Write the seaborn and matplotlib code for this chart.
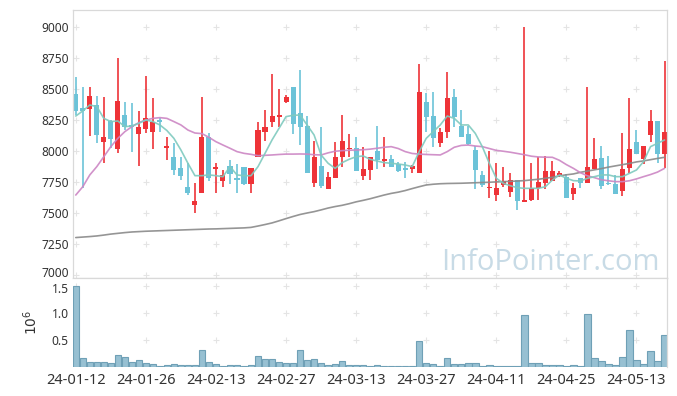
import matplotlib
matplotlib.use('Agg')
import matplotlib.pyplot as plt
import matplotlib.transforms as mtransforms
import numpy as np
import pandas as pd
import seaborn as sns

# daily prices, 24-01-12 .. 24-05-20 (85 trading days)
opens = [8460, 8344, 8341, 8368, 8075, 8245, 8019, 8288, 8210, 8137,
         8180, 8156, 8250, 8025, 7950, 7861, 7707, 7565, 7664, 8110,
         7855, 7761, 7879, 7780, 7868, 7731, 7949, 8156, 8237, 8277,
         8398, 8513, 8304, 8202, 7744, 7879, 7694, 7785, 7949, 8013,
         8027, 7801, 7847, 8000, 7919, 7935, 7895, 7855, 7852, 7825,
         8392, 8282, 8064, 8150, 8433, 8202, 8137, 8010, 7804, 7699,
         7645, 7723, 7672, 7766, 7586, 7605, 7702, 7740, 7761, 7810,
         7788, 7651, 7780, 7745, 7855, 7946, 7745, 7734, 7680, 7860,
         8070, 7933, 8129, 8245, 7976]
highs = [8595, 8513, 8519, 8444, 8433, 8250, 8747, 8392, 8387, 8322,
         8605, 8425, 8265, 8110, 8063, 7954, 7901, 7739, 8433, 8148,
         7901, 7847, 7928, 7893, 7870, 7866, 8237, 8331, 8621, 8497,
         8452, 8513, 8653, 8282, 8080, 8191, 7833, 8069, 8290, 8134,
         8115, 8035, 7954, 8202, 8116, 7968, 7914, 7914, 7887, 8702,
         8465, 8479, 8188, 8640, 8497, 8330, 8200, 8040, 7836, 8000,
         7901, 7868, 7825, 7766, 9000, 7906, 7949, 7960, 7919, 7842,
         7815, 7745, 7780, 8513, 8102, 8040, 7960, 7807, 8148, 8425,
         8169, 8040, 8331, 8245, 8728]
lows = [8290, 7700, 8121, 8067, 7900, 8024, 7981, 8170, 7992, 7879,
        8142, 8016, 8155, 7930, 7803, 7766, 7645, 7497, 7664, 7761,
        7664, 7710, 7734, 7664, 7725, 7664, 7949, 8080, 8196, 8191,
        8384, 8137, 8049, 7820, 7707, 7699, 7694, 7785, 7874, 7954,
        7841, 7766, 7766, 7852, 7874, 7874, 7833, 7780, 7820, 7825,
        8156, 8035, 8035, 8102, 8191, 8110, 8050, 7690, 7710, 7618,
        7597, 7710, 7626, 7524, 7586, 7599, 7605, 7694, 7761, 7790,
        7624, 7605, 7699, 7740, 7855, 7690, 7726, 7653, 7640, 7820,
        7976, 7895, 8075, 7906, 7860]
closes = [8325, 8322, 8444, 8129, 8113, 8097, 8403, 8196, 8195, 8191,
          8263, 8237, 8237, 8040, 7843, 7801, 7659, 7597, 8113, 7780,
          7871, 7807, 7812, 7766, 7731, 7863, 8169, 8194, 8282, 8290,
          8433, 8218, 8196, 7820, 7954, 7720, 7788, 7954, 8080, 8027,
          7841, 7852, 7954, 7927, 7933, 7874, 7841, 7849, 7879, 8479,
          8277, 8102, 8150, 8425, 8272, 8113, 8057, 7850, 7723, 7713,
          7699, 7761, 7766, 7597, 7605, 7702, 7748, 7842, 7842, 7823,
          7624, 7699, 7740, 7874, 7935, 7720, 7731, 7653, 7855, 8013,
          7976, 8040, 8242, 7976, 8150]
ma5 = [8282, 8323, 8371, 8358, 8263, 8237, 8242, 8196, 8202, 8223,
       8250, 8237, 8210, 8165, 8102, 8008, 7901, 7801, 7801, 7807,
       7801, 7793, 7874, 7807, 7801, 7801, 7874, 7981, 8089, 8183,
       8277, 8288, 8290, 8210, 8129, 7968, 7901, 7860, 7906, 7933,
       7954, 7960, 7933, 7919, 7906, 7901, 7895, 7887, 7874, 7995,
       8102, 8156, 8210, 8282, 8263, 8210, 8210, 8142, 8035, 7901,
       7780, 7739, 7720, 7704, 7699, 7699, 7699, 7712, 7766, 7807,
       7780, 7761, 7758, 7780, 7793, 7807, 7807, 7793, 7793, 7820,
       7847, 7914, 8035, 8062, 8089]
ma20 = [7645, 7712, 7807, 7874, 7954, 8035, 8102, 8156, 8196, 8229,
        8250, 8263, 8269, 8263, 8237, 8210, 8169, 8145, 8140, 8110,
        8075, 8048, 8022, 7995, 7981, 7973, 7962, 7965, 7968, 7972,
        7975, 7975, 7976, 7975, 7970, 7968, 7985, 7998, 8003, 8006,
        8008, 8010, 8015, 8022, 8030, 8035, 8020, 7995, 7980, 7975,
        7972, 7970, 7968, 7995, 8030, 8045, 8048, 8040, 8035, 8020,
        8005, 7998, 7990, 7980, 7970, 7958, 7952, 7950, 7949, 7925,
        7890, 7860, 7825, 7800, 7785, 7768, 7760, 7753, 7753, 7760,
        7775, 7793, 7810, 7830, 7860]
ma120 = [7302, 7306, 7310, 7315, 7322, 7330, 7336, 7342, 7347, 7350,
         7353, 7355, 7357, 7359, 7361, 7363, 7365, 7367, 7369, 7371,
         7372, 7374, 7376, 7378, 7380, 7384, 7395, 7407, 7420, 7437,
         7455, 7472, 7488, 7500, 7511, 7525, 7540, 7552, 7562, 7575,
         7590, 7602, 7615, 7630, 7645, 7658, 7668, 7681, 7697, 7712,
         7726, 7732, 7736, 7738, 7739, 7740, 7742, 7744, 7746, 7748,
         7751, 7753, 7755, 7758, 7761, 7767, 7772, 7780, 7788, 7800,
         7808, 7815, 7828, 7838, 7848, 7858, 7870, 7880, 7890, 7900,
         7912, 7920, 7930, 7940, 7949]
volume = [1.50, 0.16, 0.09, 0.09, 0.09, 0.07, 0.23, 0.185, 0.09, 0.13,
          0.07, 0.055, 0.02, 0.04, 0.055, 0.04, 0.04, 0.04, 0.31, 0.09,
          0.055, 0.02, 0.04, 0.04, 0.02, 0.04, 0.20, 0.15, 0.15, 0.09,
          0.07, 0.07, 0.31, 0.13, 0.15, 0.07, 0.04, 0.055, 0.11, 0.03,
          0.03, 0.03, 0.01, 0.03, 0.012, 0.012, 0.012, 0.012, 0.012, 0.48,
          0.07, 0.05, 0.012, 0.16, 0.05, 0.05, 0.07, 0.07, 0.01, 0.03,
          0.01, 0.01, 0.01, 0.01, 0.96, 0.07, 0.07, 0.03, 0.03, 0.03,
          0.01, 0.03, 0.01, 0.99, 0.16, 0.11, 0.05, 0.03, 0.18, 0.68,
          0.13, 0.05, 0.30, 0.11, 0.60]
tick_labels = ['24-01-12', '24-01-26', '24-02-13', '24-02-27', '24-03-13',
               '24-03-27', '24-04-11', '24-04-25', '24-05-13']

df = pd.DataFrame({'open': opens, 'high': highs, 'low': lows, 'close': closes,
                   'ma5': ma5, 'ma20': ma20, 'ma120': ma120, 'vol': volume})
df['idx'] = np.arange(len(df))

sns.set_theme(style='white')
plt.rcParams['font.family'] = ['Noto Sans', 'DejaVu Sans']

RED = '#ee3338'
BLUE = '#6cc3d8'
GRID = '#d9d9d9'

fig = plt.figure(figsize=(6.77, 3.96), dpi=100)
ax = fig.add_axes([0.1078, 0.298, 0.8774, 0.6768])
axv = fig.add_axes([0.1078, 0.0732, 0.8774, 0.2248], sharex=ax)

xt = df['idx'].values[::10]

# grid crosses
for yv in range(7000, 9001, 250):
    ax.scatter(xt, [yv] * len(xt), marker='+', s=20, color='#e4e4e4',
               linewidths=0.8, zorder=0)
for yv in [0.5, 1.0, 1.5]:
    axv.scatter(xt, [yv] * len(xt), marker='+', s=20, color='#e4e4e4',
                linewidths=0.8, zorder=0)

# candles
up = df['close'] >= df['open']
colors = np.where(up, RED, BLUE)
ax.vlines(df['idx'], df['low'], df['high'], colors=colors, lw=1.2, zorder=2)
body_lo = np.minimum(df['open'], df['close'])
body_h = np.maximum((df['close'] - df['open']).abs(), 10)
ax.bar(df['idx'], body_h, bottom=body_lo, width=0.72, color=colors,
       linewidth=0, zorder=2)

# moving averages
sns.lineplot(data=df, x='idx', y='ma120', ax=ax, color='#8a8a8a', lw=1.2,
             alpha=0.9, zorder=3)
sns.lineplot(data=df, x='idx', y='ma20', ax=ax, color='#cc86c4', lw=1.2,
             alpha=0.9, zorder=3)
sns.lineplot(data=df, x='idx', y='ma5', ax=ax, color='#7fcabf', lw=1.2,
             alpha=0.9, zorder=3)

ax.text(0.988, 0.03, 'InfoPointer.com', transform=ax.transAxes, ha='right',
        va='baseline', fontsize=21, color='#c8dbe6', family=['Open Sans', 'DejaVu Sans'],
        zorder=1)

ax.set_xlim(-0.4, 84.35)
ax.set_ylim(6976, 9137)
ax.set_yticks(range(7000, 9001, 250))
ax.set_ylabel('')
ax.set_xlabel('')
ax.tick_params(axis='y', labelsize=8.6, length=0, pad=3, labelcolor='#333333')
ax.tick_params(axis='x', length=0, labelbottom=False)
for s in ax.spines.values():
    s.set_color(GRID)
    s.set_linewidth(0.9)

# volume
axv.bar(df['idx'], df['vol'], width=0.92, color='#97c0d2', edgecolor='#6fa0b6',
        linewidth=0.8)
axv.set_ylim(0, 1.65)
axv.set_yticks([0.5, 1.0, 1.5])
axv.set_yticklabels(['0.5', '1.0', '1.5'])
axv.set_xticks(xt)
axv.set_xticklabels(tick_labels)
axv.tick_params(axis='y', labelsize=8.6, length=0, pad=3, labelcolor='#333333')
axv.tick_params(axis='x', labelsize=10.5, length=0, pad=4, labelcolor='#333333')
axv.set_ylabel(r'$10^6$', fontsize=10, color='#333333', labelpad=8)
axv.set_xlabel('')
for k, s in axv.spines.items():
    s.set_color(GRID)
    s.set_linewidth(0.9)
axv.spines['left'].set_visible(False)
axv.spines['bottom'].set_visible(False)

# keep the bottom price label and the top volume label apart
ylab_main = ax.get_yticklabels()
ylab_main[0].set_transform(ylab_main[0].get_transform() +
                           mtransforms.ScaledTranslation(0, 2 / 72, fig.dpi_scale_trans))
ylab_vol = axv.get_yticklabels()
ylab_vol[-1].set_transform(ylab_vol[-1].get_transform() +
                           mtransforms.ScaledTranslation(0, -1.5 / 72, fig.dpi_scale_trans))

fig.savefig('out.png', dpi=100)
